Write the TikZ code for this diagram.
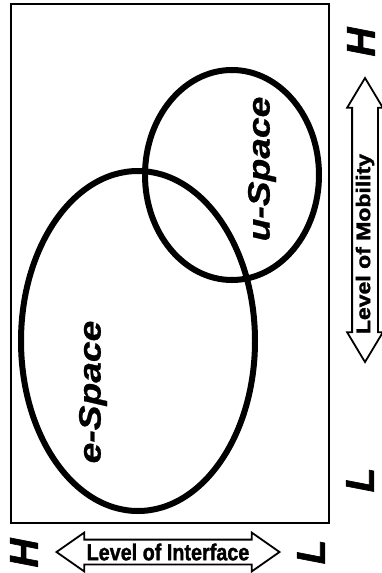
\documentclass[tikz,border=0pt]{standalone}
\usepackage{fontspec}
\setmainfont{Liberation Sans}
\newfontfamily\heavyfont[FakeBold=1.6]{Liberation Sans Bold}
\newfontfamily\heavyslant[FakeBold=1.6]{Liberation Sans Bold Italic}
\newfontfamily\spaceslant[FakeBold=0.8]{Liberation Sans Bold Italic}
\usetikzlibrary{shapes.arrows, positioning}

\tikzset{
  spaceline/.style={line width=6pt},
  spacelabel/.style={rotate=90, xscale=1.2, inner sep=0pt,
    font=\fontsize{31}{31}\spaceslant},
  levelmark/.style={rotate=90, inner sep=0pt,
    font=\fontsize{40}{40}\heavyslant},
  levelarrow/.style={draw, line width=1.8pt, double arrow, inner sep=0pt, text depth=0pt},
  levellabel/.style={xscale=0.86, inner sep=0pt,
    font=\fontsize{23}{23}\heavyfont},
}

\begin{document}
\begin{tikzpicture}[x=1pt, y=-1pt]
  \useasboundingbox (0,0) rectangle (382,573);

  % frame
  \draw[line width=1.3pt] (11,4) rectangle (329,523);

  % the two spaces
  \draw[spaceline] (138,341) ellipse [x radius=117pt, y radius=170pt];
  \draw[spaceline] (232,175) ellipse [x radius=87pt, y radius=105pt];
  \node[spacelabel] (elabel) at (93,392) {e-Space};
  \node[spacelabel] (ulabel) at (262,169) {u-Space};

  % level of mobility
  \node[levelarrow, rotate=90, minimum height=284pt, text height=24pt,
    double arrow head extend=5pt, double arrow tip angle=62] (mobarrow) at (365,220) {};
  \node[levellabel, rotate=90] (moblabel) at (365,244) {Level of Mobility};
  \node[levelmark] (mobhigh) at (361,42) {H};
  \node[levelmark] (moblow) at (360,480) {L};

  % level of interface
  \node[levelarrow, minimum height=223pt, text height=23pt,
    double arrow head extend=7pt, double arrow tip angle=70] (intarrow) at (168,552) {};
  \node[levellabel] (intlabel) at (168,552) {Level of Interface};
  \node[levelmark] (inthigh) at (24,553) {H};
  \node[levelmark] (intlow) at (311,552) {L};
\end{tikzpicture}
\end{document}
